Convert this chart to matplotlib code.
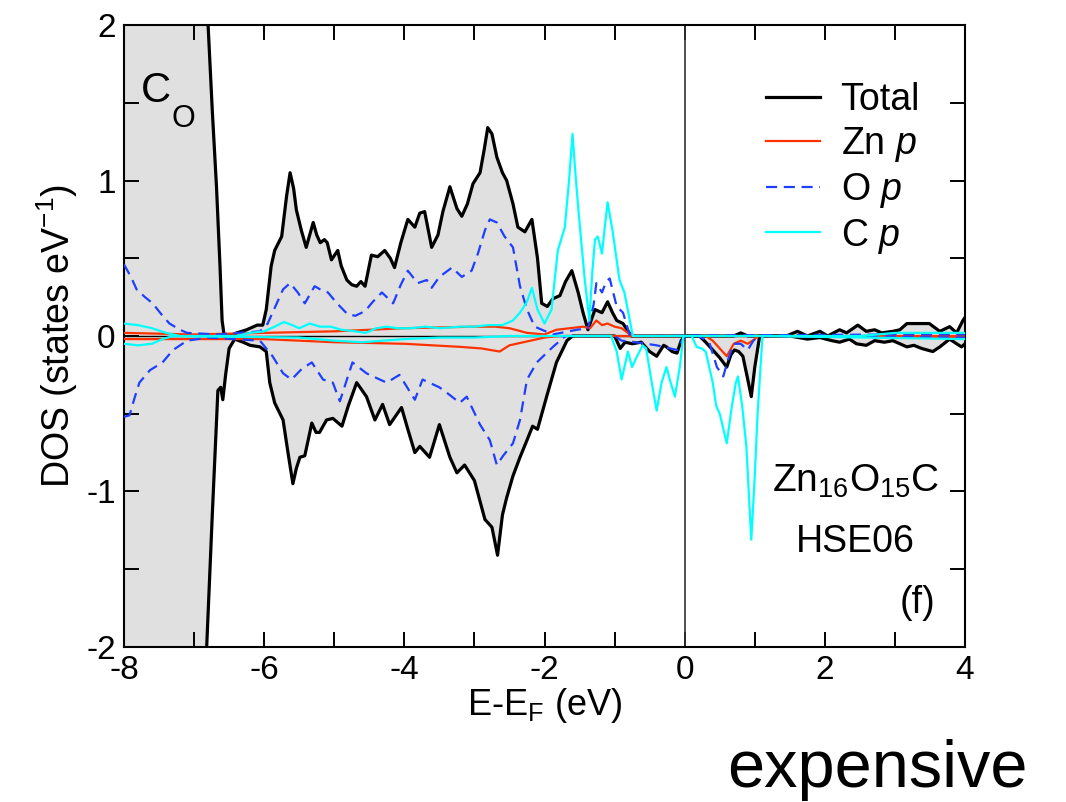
import matplotlib
matplotlib.use('Agg')
import matplotlib.pyplot as plt
import numpy as np

plt.rcParams['font.family'] = ['Liberation Sans', 'DejaVu Sans']
plt.rcParams['mathtext.fontset'] = 'custom'
plt.rcParams['mathtext.rm'] = 'Liberation Sans'
plt.rcParams['mathtext.it'] = 'Liberation Sans:italic'
plt.rcParams['axes.unicode_minus'] = False

# Total DOS, spin up / spin down
e_tot_up = [-8.0, -6.95, -6.86, -6.80, -6.74, -6.68, -6.63, -6.60, -6.57, -6.45, -6.39, -6.25, -6.15,
            -6.10, -6.02, -5.97, -5.90, -5.85, -5.75, -5.68, -5.63, -5.58, -5.54, -5.47, -5.40, -5.30,
            -5.25, -5.20, -5.14, -5.10, -5.04, -4.95, -4.90, -4.82, -4.75, -4.68, -4.62, -4.56, -4.47,
            -4.38, -4.28, -4.20, -4.14, -4.05, -3.95, -3.85, -3.78, -3.71, -3.61, -3.52, -3.45, -3.35,
            -3.25, -3.18, -3.10, -3.02, -2.92, -2.86, -2.81, -2.75, -2.68, -2.60, -2.54, -2.45, -2.38,
            -2.28, -2.18, -2.10, -2.04, -1.96, -1.88, -1.78, -1.70, -1.61, -1.52, -1.45, -1.38, -1.32,
            -1.28, -1.18, -1.10, -1.03, -0.97, -0.88, -0.76, 0.0, 0.70, 0.80, 0.90, 1.05, 1.45, 1.61,
            1.75, 1.93, 2.04, 2.21, 2.31, 2.47, 2.59, 2.71, 2.81, 2.97, 3.07, 3.17, 3.35, 3.49, 3.64,
            3.78, 3.88, 3.97, 4.0]
tot_up = [3.5, 3.5, 2.5, 2.0, 1.45, 0.96, 0.45, 0.10, 0.0, 0.01, 0.02, 0.04, 0.06,
          0.07, 0.07, 0.17, 0.45, 0.55, 0.64, 0.90, 1.05, 0.95, 0.81, 0.68, 0.57, 0.73,
          0.65, 0.60, 0.62, 0.60, 0.49, 0.55, 0.45, 0.36, 0.33, 0.32, 0.35, 0.32, 0.52,
          0.51, 0.55, 0.50, 0.44, 0.60, 0.75, 0.70, 0.79, 0.80, 0.57, 0.65, 0.80, 0.96,
          0.82, 0.77, 0.85, 0.98, 1.05, 1.20, 1.34, 1.30, 1.15, 1.05, 1.00, 0.85, 0.70,
          0.67, 0.75, 0.50, 0.21, 0.19, 0.24, 0.26, 0.35, 0.42, 0.28, 0.15, 0.04, 0.12,
          0.17, 0.15, 0.22, 0.15, 0.10, 0.08, 0.0, 0.0, 0.0, 0.02, 0.0, 0.0, 0.0, 0.03,
          0.0, 0.03, 0.0, 0.04, 0.02, 0.07, 0.03, 0.04, 0.02, 0.03, 0.04, 0.08, 0.08, 0.08, 0.03,
          0.06, 0.02, 0.10, 0.12]

e_tot_dn = [-8.0, -6.95, -6.86, -6.82, -6.74, -6.66, -6.62, -6.59, -6.55, -6.50, -6.42, -6.30,
            -6.20, -6.06, -5.97, -5.92, -5.85, -5.73, -5.66, -5.59, -5.54, -5.49, -5.42, -5.32,
            -5.26, -5.21, -5.11, -5.02, -4.89, -4.80, -4.68, -4.54, -4.42, -4.31, -4.21, -4.04,
            -3.95, -3.85, -3.78, -3.64, -3.50, -3.35, -3.25, -3.14, -3.00, -2.85, -2.75, -2.67,
            -2.60, -2.54, -2.45, -2.35, -2.25, -2.17, -2.10, -1.97, -1.83, -1.68, -1.60, -1.00,
            -0.92, -0.85, -0.75, -0.62, -0.50, -0.40, -0.30, -0.26, -0.18, -0.11, -0.05, 0.0, 0.21,
            0.30, 0.40, 0.50, 0.60, 0.66, 0.71, 0.77, 0.83, 0.90, 0.95, 1.00, 1.07, 1.50, 1.75,
            1.93, 2.10, 2.21, 2.35, 2.45, 2.59, 2.71, 2.85, 2.97, 3.17, 3.27, 3.38, 3.54, 3.64,
            3.78, 3.88, 3.95, 4.0]
tot_dn = [-3.5, -3.5, -2.5, -2.0, -1.15, -0.35, -0.33, -0.41, -0.25, -0.08, -0.02, -0.04,
          -0.06, -0.07, -0.10, -0.30, -0.43, -0.54, -0.75, -0.95, -0.85, -0.78, -0.77, -0.56,
          -0.62, -0.62, -0.54, -0.53, -0.58, -0.45, -0.30, -0.39, -0.54, -0.44, -0.57, -0.46,
          -0.60, -0.75, -0.71, -0.78, -0.57, -0.78, -0.88, -0.83, -0.93, -1.18, -1.23, -1.41,
          -1.15, -1.04, -0.90, -0.78, -0.67, -0.58, -0.60, -0.39, -0.17, -0.03, 0.0, 0.0,
          -0.08, -0.04, -0.05, -0.04, -0.10, -0.13, -0.06, -0.07, -0.10, -0.11, -0.03, 0.0, 0.0,
          -0.04, -0.09, -0.14, -0.20, -0.12, -0.09, -0.10, -0.13, -0.28, -0.39, -0.20, 0.0, 0.0, -0.02,
          -0.01, -0.03, -0.04, -0.02, -0.05, -0.06, -0.03, -0.04, -0.03, -0.07, -0.06, -0.08, -0.10, -0.07,
          -0.02, -0.05, -0.07, -0.05]

# Zn p
e_zn_up = [-8.0, -7.0, -6.0, -5.0, -4.0, -3.0, -2.7, -2.5, -2.25, -2.0, -1.83, -1.45, -1.35,
           -1.26, -1.18, -1.10, -1.0, -0.9, -0.75, 4.0]
zn_up = [0.02, 0.01, 0.02, 0.03, 0.05, 0.06, 0.06, 0.05, 0.02, 0.01, 0.04, 0.06, 0.05,
         0.10, 0.07, 0.08, 0.06, 0.05, 0.0, 0.0]
e_zn_dn = [-8.0, -7.0, -6.0, -5.0, -4.0, -3.2, -2.9, -2.64, -2.5, -2.3, -2.0, -1.8, 0.3, 0.4,
           0.5, 0.6, 0.7, 0.8, 0.9, 1.0, 1.05, 4.0]
zn_dn = [-0.02, -0.02, -0.02, -0.04, -0.05, -0.07, -0.08, -0.10, -0.06, -0.04, -0.01, 0.0, 0.0,
         -0.03, -0.08, -0.13, -0.05, -0.03, -0.05, -0.02, 0.0, -0.01]

# O p
e_o_up = [-8.0, -7.9, -7.82, -7.7, -7.59, -7.45, -7.35, -7.2, -7.1, -6.66, -6.06, -5.95, -5.88,
          -5.73, -5.63, -5.52, -5.42, -5.28, -5.2, -5.09, -4.96, -4.81, -4.7, -4.56, -4.45, -4.32,
          -4.16, -4.05, -3.95, -3.81, -3.68, -3.61, -3.5, -3.32, -3.18, -3.04, -2.95, -2.85, -2.78,
          -2.68, -2.57, -2.45, -2.35, -2.25, -2.14, -1.88, -1.54, -1.38, -1.3, -1.26, -1.18, -1.12,
          -1.07, -0.97, -0.88, -0.78, 3.0, 4.0]
o_up = [0.46, 0.38, 0.30, 0.25, 0.21, 0.13, 0.08, 0.04, 0.02, 0.01, 0.03, 0.08, 0.15,
        0.30, 0.34, 0.28, 0.21, 0.32, 0.30, 0.28, 0.21, 0.14, 0.13, 0.16, 0.22, 0.28,
        0.21, 0.33, 0.42, 0.34, 0.36, 0.31, 0.38, 0.44, 0.38, 0.42, 0.53, 0.68, 0.75,
        0.73, 0.64, 0.57, 0.32, 0.17, 0.06, 0.01, 0.04, 0.05, 0.20, 0.34, 0.28, 0.35,
        0.37, 0.19, 0.15, 0.0, 0.01, 0.01]
e_o_dn = [-8.0, -7.92, -7.85, -7.78, -7.63, -7.45, -7.3, -7.1, -6.8, -6.06, -5.88, -5.73, -5.61,
          -5.46, -5.32, -5.16, -5.02, -4.92, -4.74, -4.54, -4.35, -4.25, -4.07, -3.85, -3.74, -3.5,
          -3.35, -3.21, -3.11, -2.92, -2.78, -2.68, -2.59, -2.45, -2.35, -2.25, -2.11, -1.88, -1.7,
          -1.0, -0.9, -0.7, -0.4, -0.11, 0.0, 0.2, 0.35, 0.46, 0.55, 0.62, 0.7, 0.8, 0.9, 0.98,
          1.05, 4.0]
o_dn = [-0.52, -0.51, -0.40, -0.30, -0.22, -0.17, -0.09, -0.03, -0.01, -0.03, -0.13, -0.24, -0.28,
        -0.21, -0.17, -0.28, -0.30, -0.42, -0.17, -0.24, -0.28, -0.30, -0.25, -0.41, -0.28, -0.33,
        -0.38, -0.43, -0.39, -0.57, -0.67, -0.83, -0.77, -0.69, -0.54, -0.28, -0.17, -0.07, 0.0,
        0.0, -0.03, -0.04, -0.06, -0.09, 0.0, 0.0, -0.04, -0.20, -0.26, -0.15, -0.05, -0.05, -0.09, -0.03,
        0.0, -0.01]

# C p
e_c_up = [-8.0, -7.8, -7.6, -7.4, -7.2, -6.4, -6.2, -6.0, -5.85, -5.72, -5.6, -5.5, -5.35, -5.2,
          -5.05, -4.9, -4.7, -4.55, -4.4, -4.25, -4.1, -3.9, -3.7, -3.5, -3.2, -3.0, -2.8, -2.6,
          -2.45, -2.35, -2.25, -2.18, -2.1, -2.0, -1.9, -1.81, -1.71, -1.65, -1.60, -1.56, -1.52,
          -1.43, -1.36, -1.32, -1.28, -1.24, -1.18, -1.14, -1.10, -1.03, -0.93, -0.86, -0.74, 2.5,
          3.0, 4.0]
c_up = [0.08, 0.07, 0.05, 0.02, 0.0, 0.0, 0.02, 0.03, 0.06, 0.09, 0.07, 0.05, 0.08, 0.06,
        0.06, 0.04, 0.03, 0.02, 0.05, 0.06, 0.05, 0.05, 0.06, 0.05, 0.06, 0.06, 0.07, 0.07,
        0.10, 0.15, 0.22, 0.31, 0.17, 0.08, 0.17, 0.55, 0.70, 1.00, 1.30, 1.05, 0.83,
        0.38, 0.10, 0.40, 0.62, 0.64, 0.53, 0.70, 0.86, 0.68, 0.36, 0.28, 0.0, 0.0,
        0.02, 0.02]
e_c_dn = [-8.0, -7.8, -7.6, -7.45, -7.3, -5.5, -5.0, -4.6, -4.3, -4.0, -3.5, -3.0, -2.5, -1.05,
          -0.97, -0.90, -0.81, -0.75, -0.69, -0.60, -0.55, -0.47, -0.40, -0.33, -0.26, -0.20,
          -0.14, -0.07, -0.02, 0.10, 0.17, 0.24, 0.30, 0.40, 0.45, 0.50, 0.60, 0.67, 0.73, 0.76,
          0.82, 0.88, 0.95, 1.00, 1.04, 1.11, 4.0]
c_dn = [-0.05, -0.06, -0.05, -0.02, 0.0, -0.01, -0.03, -0.04, -0.03, -0.02, -0.01, -0.01, 0.0, 0.0,
        -0.10, -0.28, -0.10, -0.20, -0.14, -0.06, -0.08, -0.30, -0.48, -0.30, -0.20, -0.30,
        -0.39, -0.20, 0.0, 0.0, -0.07, -0.08, -0.10, -0.30, -0.45, -0.50, -0.69, -0.46, -0.30, -0.26,
        -0.45, -0.71, -1.31, -0.90, -0.50, 0.0, -0.02]

red = '#ff3300'
blue = '#1f3fff'
cyan = '#00ffff'


def main():
    fig = plt.figure(figsize=(10.66, 8.02), dpi=100)
    ax = fig.add_axes([0.1163, 0.1933, 0.7890, 0.7755])

    # gray shading between spin-up and spin-down total DOS
    grid = np.union1d(e_tot_up, e_tot_dn)
    ax.fill_between(grid, np.interp(grid, e_tot_dn, tot_dn), np.interp(grid, e_tot_up, tot_up),
                    color='#e0e0e0', lw=0, zorder=1)

    ax.axhline(0, color='black', lw=1.0, zorder=2)
    ax.axvline(0, color='#333333', lw=1.2, zorder=2)

    ax.plot(e_tot_up, tot_up, color='black', lw=2.3, label='Total', zorder=3)
    ax.plot(e_tot_dn, tot_dn, color='black', lw=2.3, zorder=3)
    ax.plot(e_zn_up, zn_up, color=red, lw=1.6, label='Zn $\\mathit{p}$', zorder=4)
    ax.plot(e_zn_dn, zn_dn, color=red, lw=1.6, zorder=4)
    ax.plot(e_o_up, o_up, color=blue, lw=1.6, dashes=(5, 3), label='O $\\mathit{p}$', zorder=4)
    ax.plot(e_o_dn, o_dn, color=blue, lw=1.6, dashes=(5, 3), zorder=4)
    ax.plot(e_c_up, c_up, color=cyan, lw=1.6, label='C $\\mathit{p}$', zorder=5)
    ax.plot(e_c_dn, c_dn, color=cyan, lw=1.6, zorder=5)

    ax.set_xlim(-8, 4)
    ax.set_ylim(-2, 2)
    ax.set_xticks(np.arange(-8, 5, 2))
    ax.set_xticks(np.arange(-8, 5, 1), minor=True)
    ax.set_yticks([-2, -1, 0, 1, 2])
    ax.set_yticks(np.arange(-2, 2.01, 0.5), minor=True)
    ax.tick_params(which='both', direction='in', top=True, right=True, length=11, width=1.4)
    ax.tick_params(which='major', labelsize=24, pad=6)
    for s in ax.spines.values():
        s.set_linewidth(1.5)

    ax.set_xlabel('E-E$_\\mathregular{F}$ (eV)', fontsize=26, labelpad=0)
    ax.set_ylabel('DOS (states eV$^\\mathregular{-1}$)', fontsize=27, labelpad=4)

    ax.legend(loc='upper left', bbox_to_anchor=(0.745, 0.932), frameon=False, fontsize=27,
              handlelength=1.45, handletextpad=0.55, labelspacing=0.18, borderaxespad=0)

    ax.text(0.02, 0.926, 'C', transform=ax.transAxes, fontsize=30, va='top', ha='left')
    ax.text(0.057, 0.873, 'O', transform=ax.transAxes, fontsize=22, va='top', ha='left')

    ax.text(0.87, 0.25, 'Zn$_{16}$O$_{15}$C', transform=ax.transAxes, fontsize=28,
            ha='center', va='baseline')
    ax.text(0.87, 0.153, 'HSE06', transform=ax.transAxes, fontsize=27, ha='center', va='baseline')
    ax.text(0.965, 0.055, '(f)', transform=ax.transAxes, fontsize=27, ha='right', va='baseline')

    fig.text(727 / 1066, 1 - 787 / 802, 'expensive', fontsize=48, ha='left', va='baseline')

    fig.savefig('out.png', dpi=100)


if __name__ == '__main__':
    main()
